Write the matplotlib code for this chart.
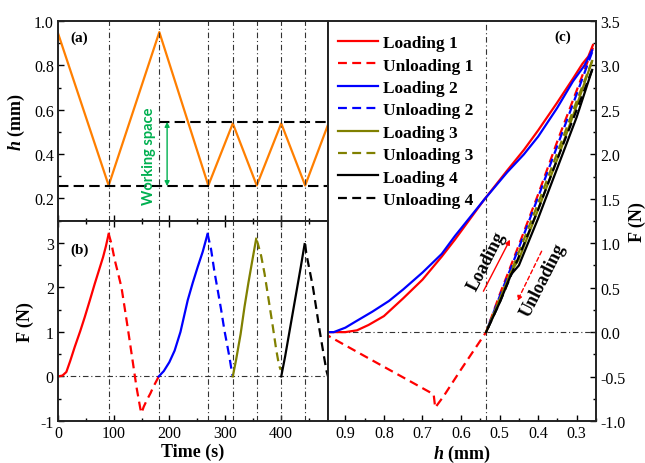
import matplotlib
matplotlib.use("Agg")
import matplotlib.pyplot as plt
from matplotlib.ticker import MultipleLocator

plt.rcParams['font.family'] = ['Liberation Serif', 'DejaVu Serif']
plt.rcParams['mathtext.fontset'] = 'custom'
plt.rcParams['mathtext.rm'] = 'Liberation Serif:bold'
plt.rcParams['mathtext.it'] = 'Liberation Serif:italic:bold'
plt.rcParams['axes.unicode_minus'] = False

# ---------------- data ----------------
# (a) displacement h vs time
t_h = [0, 91, 182, 270, 314, 357, 401, 444, 485]
h_t = [0.945, 0.258, 0.95, 0.258, 0.538, 0.258, 0.538, 0.258, 0.532]
h_lower = 0.255
h_upper = 0.545
t_upper_start = 182
t_marks = [91, 182, 270, 314, 357, 401, 444]
t_ws_arrow = 196
t_ws_text = 163

# (b) force vs time
t_L1 = [0, 8, 15, 22, 30, 40, 48, 57, 66, 74, 81, 86, 91]
F_L1 = [0, 0.02, 0.1, 0.35, 0.66, 1.02, 1.33, 1.7, 2.08, 2.4, 2.68, 2.92, 3.2]
t_U1 = [91, 96, 102, 108, 114, 120, 126, 133, 137, 141, 148, 150, 154, 160, 166, 171, 176, 181]
F_U1 = [3.2, 2.98, 2.61, 2.31, 2.0, 1.52, 1.03, 0.44, 0.1, -0.24, -0.73, -0.82, -0.68, -0.52, -0.38, -0.24, -0.12, 0.0]
t_L2 = [181, 190, 200, 209.5, 220, 233, 242, 251, 260, 268.7]
F_L2 = [0, 0.12, 0.32, 0.58, 1.0, 1.71, 2.1, 2.46, 2.8, 3.2]
t_U2 = [268.7, 275, 281, 287, 293, 299, 304, 308, 311, 314]
F_U2 = [3.2, 2.85, 2.35, 1.93, 1.5, 1.03, 0.7, 0.43, 0.2, 0.0]
t_L3 = [314, 320, 328, 335, 342, 349, 356]
F_L3 = [0, 0.38, 0.95, 1.56, 2.1, 2.6, 3.09]
t_U3 = [357, 359, 365, 371, 378, 386, 392, 397, 400]
F_U3 = [3.05, 2.98, 2.7, 2.31, 1.75, 1.11, 0.6, 0.25, 0.15]
t_L4 = [401, 408, 415, 422, 429, 436, 443]
F_L4 = [0, 0.45, 0.95, 1.45, 1.95, 2.45, 2.97]
t_U4 = [444, 446, 452, 458, 464, 470, 476, 482, 485]
F_U4 = [2.97, 2.76, 2.38, 2.0, 1.52, 1.03, 0.58, 0.14, 0.0]

# (c) force vs h
h_L1 = [0.945, 0.90, 0.87, 0.84, 0.80, 0.75, 0.70, 0.65, 0.616, 0.54, 0.48, 0.437, 0.40, 0.351, 0.31, 0.285, 0.27, 0.258]
Fh_L1 = [0.0, 0.0, 0.02, 0.08, 0.18, 0.38, 0.59, 0.85, 1.04, 1.49, 1.82, 2.05, 2.27, 2.58, 2.85, 3.02, 3.10, 3.23]
h_U1 = [0.258, 0.30, 0.35, 0.40, 0.45, 0.50, 0.535, 0.60, 0.645, 0.667, 0.671, 0.75, 0.85, 0.945]
Fh_U1 = [3.2, 2.72, 2.15, 1.55, 0.98, 0.42, 0.0, -0.42, -0.72, -0.85, -0.70, -0.51, -0.27, -0.04]
h_L2 = [0.945, 0.93, 0.90, 0.873, 0.83, 0.787, 0.75, 0.70, 0.65, 0.616, 0.54, 0.48, 0.437, 0.40, 0.351, 0.31, 0.28, 0.26]
Fh_L2 = [0.0, 0.0, 0.05, 0.12, 0.23, 0.35, 0.48, 0.67, 0.88, 1.08, 1.49, 1.80, 2.0, 2.2, 2.52, 2.82, 3.0, 3.17]
h_U2 = [0.26, 0.30, 0.35, 0.40, 0.45, 0.50, 0.535]
Fh_U2 = [3.15, 2.68, 2.10, 1.52, 0.95, 0.40, 0.0]
h_L3 = [0.535, 0.50, 0.47, 0.45, 0.40, 0.35, 0.30, 0.26]
Fh_L3 = [0, 0.37, 0.68, 0.82, 1.38, 1.95, 2.55, 3.05]
h_U3 = [0.26, 0.30, 0.35, 0.40, 0.45, 0.50, 0.53]
Fh_U3 = [3.05, 2.6, 2.02, 1.45, 0.9, 0.35, 0.05]
h_L4 = [0.535, 0.50, 0.47, 0.45, 0.40, 0.35, 0.30, 0.26]
Fh_L4 = [0, 0.33, 0.65, 0.75, 1.28, 1.85, 2.42, 2.95]
h_U4 = [0.26, 0.30, 0.35, 0.40, 0.45, 0.50, 0.535]
Fh_U4 = [2.95, 2.5, 1.95, 1.38, 0.85, 0.33, 0.0]
h_mark = 0.535

labels = ['Loading 1', 'Unloading 1', 'Loading 2', 'Unloading 2',
          'Loading 3', 'Unloading 3', 'Loading 4', 'Unloading 4']
colors = ['#FF0000', '#0000FF', '#808000', '#000000']

# ---------------- figure ----------------
W, H = 645, 464
fig = plt.figure(figsize=(W / 100, H / 100), dpi=100)
L, R, RR = 58 / W, 328 / W, 596 / W
top, mid, bot = 1 - 22 / H, 1 - 221.5 / H, 1 - 422 / H
axa = fig.add_axes([L, mid, R - L, top - mid])
axb = fig.add_axes([L, bot, R - L, mid - bot])
axc = fig.add_axes([R, bot, RR - R, top - bot])

lw = 1.6
dash = (4, 2.4)
dd = dict(color='#333333', lw=0.8, dashes=(5, 2.5, 1, 2.5))

for ax in (axa, axb, axc):
    for s in ax.spines.values():
        s.set_linewidth(1.4)
        s.set_color('#222222')
    ax.tick_params(which='both', direction='in', width=1.0, labelsize=11.5, pad=3)
    ax.tick_params(which='major', length=4)
    ax.tick_params(which='minor', length=2.5)

# (a)
axa.plot(t_h, h_t, color='#FF7F00', lw=lw)
axa.hlines(h_lower, 0, t_h[-1], colors='k', lw=1.5, linestyles=(0, (5, 2.5)))
axa.hlines(h_upper, t_upper_start, t_h[-1], colors='k', lw=1.5, linestyles=(0, (5, 2.5)))
for tm in t_marks:
    axa.axvline(tm, **dd)
    axb.axvline(tm, **dd)
green = '#00B050'
axa.annotate('', xy=(t_ws_arrow, h_upper), xytext=(t_ws_arrow, h_lower),
             arrowprops=dict(arrowstyle='<|-|>', color=green, lw=1.0,
                             mutation_scale=7, shrinkA=0, shrinkB=0))
axa.text(t_ws_text, (h_lower + h_upper) / 2 - 0.005, 'Working space', color=green,
         rotation=90, ha='center', va='center', fontsize=10.5,
         fontweight='bold', family=['Lato', 'DejaVu Sans'])
axa.set_xlim(0, 485)
axa.set_ylim(0.1, 1.0)
axa.yaxis.set_major_locator(MultipleLocator(0.2))
axa.yaxis.set_minor_locator(MultipleLocator(0.1))
axa.xaxis.set_major_locator(MultipleLocator(100))
axa.xaxis.set_minor_locator(MultipleLocator(50))
axa.tick_params(axis='x', labelbottom=False)
axa.set_ylabel('$h$ (mm)', fontsize=13, fontweight='bold', labelpad=5)
axa.text(0.045, 0.92, '(a)', transform=axa.transAxes, fontsize=11,
         fontweight='bold', ha='left', va='center')

# (b)
axb.axhline(0, **dd)
axb.plot(t_L1, F_L1, color=colors[0], lw=lw)
axb.plot(t_U1, F_U1, color=colors[0], lw=lw, dashes=dash)
axb.plot(t_L2, F_L2, color=colors[1], lw=lw)
axb.plot(t_U2, F_U2, color=colors[1], lw=lw, dashes=dash)
axb.plot(t_L3, F_L3, color=colors[2], lw=lw)
axb.plot(t_U3, F_U3, color=colors[2], lw=lw, dashes=dash)
axb.plot(t_L4, F_L4, color=colors[3], lw=lw)
axb.plot(t_U4, F_U4, color=colors[3], lw=lw, dashes=dash)
axb.set_xlim(0, 485)
axb.set_ylim(-1, 3.5)
axb.yaxis.set_major_locator(MultipleLocator(1))
axb.yaxis.set_minor_locator(MultipleLocator(0.5))
axb.xaxis.set_major_locator(MultipleLocator(100))
axb.xaxis.set_minor_locator(MultipleLocator(50))
axb.tick_params(axis='x', top=True, which='both')
axb.set_yticks([-1, 0, 1, 2, 3])
axb.set_ylabel('F (N)', fontsize=13, fontweight='bold', labelpad=5)
axb.set_xlabel('Time (s)', fontsize=13, fontweight='bold', labelpad=1)
axb.text(0.045, 0.858, '(b)', transform=axb.transAxes, fontsize=11,
         fontweight='bold', ha='left', va='center')

# (c)
axc.axhline(0, **dd)
axc.axvline(h_mark, **dd)
series = [(h_L1, Fh_L1), (h_U1, Fh_U1), (h_L2, Fh_L2), (h_U2, Fh_U2),
          (h_L3, Fh_L3), (h_U3, Fh_U3), (h_L4, Fh_L4), (h_U4, Fh_U4)]
handles = []
for i, (hh, ff) in enumerate(series):
    c = colors[i // 2]
    if i % 2 == 0:
        ln, = axc.plot(hh, ff, color=c, lw=lw, label=labels[i])
    else:
        ln, = axc.plot(hh, ff, color=c, lw=lw, dashes=dash, label=labels[i])
    handles.append(ln)
axc.set_xlim(0.945, 0.25)
axc.set_ylim(-1, 3.5)
axc.xaxis.set_major_locator(MultipleLocator(0.1))
axc.xaxis.set_minor_locator(MultipleLocator(0.05))
axc.yaxis.set_major_locator(MultipleLocator(0.5))
axc.yaxis.set_minor_locator(MultipleLocator(0.25))
axc.set_xticks([0.9, 0.8, 0.7, 0.6, 0.5, 0.4, 0.3])
axc.yaxis.tick_right()
axc.yaxis.set_label_position('right')
axc.tick_params(axis='y', which='both', left=False, right=True)
axc.set_ylabel('F (N)', fontsize=13, fontweight='bold', labelpad=2)
axc.set_xlabel('$h$ (mm)', fontsize=13, fontweight='bold', labelpad=1)
axc.text(0.875, 0.961, '(c)', transform=axc.transAxes, fontsize=11,
         fontweight='bold', ha='center', va='center')
leg = axc.legend(handles=handles, loc='upper left', bbox_to_anchor=(0.037, 0.965),
                 frameon=False, borderpad=0, borderaxespad=0, handlelength=2.3,
                 handletextpad=0.3, labelspacing=0.36,
                 prop=dict(family='Liberation Serif', weight='bold', size=12.5))

# arrows in (c)
axc.annotate('', xy=(0.473, 1.04), xytext=(0.542, 0.46),
             arrowprops=dict(arrowstyle='-|>', color='#FF0000', lw=1.0,
                             mutation_scale=7, shrinkA=0, shrinkB=0))
axc.annotate('', xy=(0.454, 0.35), xytext=(0.391, 0.91),
             arrowprops=dict(arrowstyle='-|>', color='#FF0000', lw=1.0,
                             linestyle=(0, (3, 2)),
                             mutation_scale=7, shrinkA=0, shrinkB=0))
axc.text(0.533, 0.80, 'Loading', rotation=63, ha='center', va='center',
         fontsize=13, fontweight='bold', rotation_mode='anchor')
axc.text(0.386, 0.59, 'Unloading', rotation=63, ha='center', va='center',
         fontsize=13, fontweight='bold', rotation_mode='anchor')

fig.savefig('out.png', dpi=100)
